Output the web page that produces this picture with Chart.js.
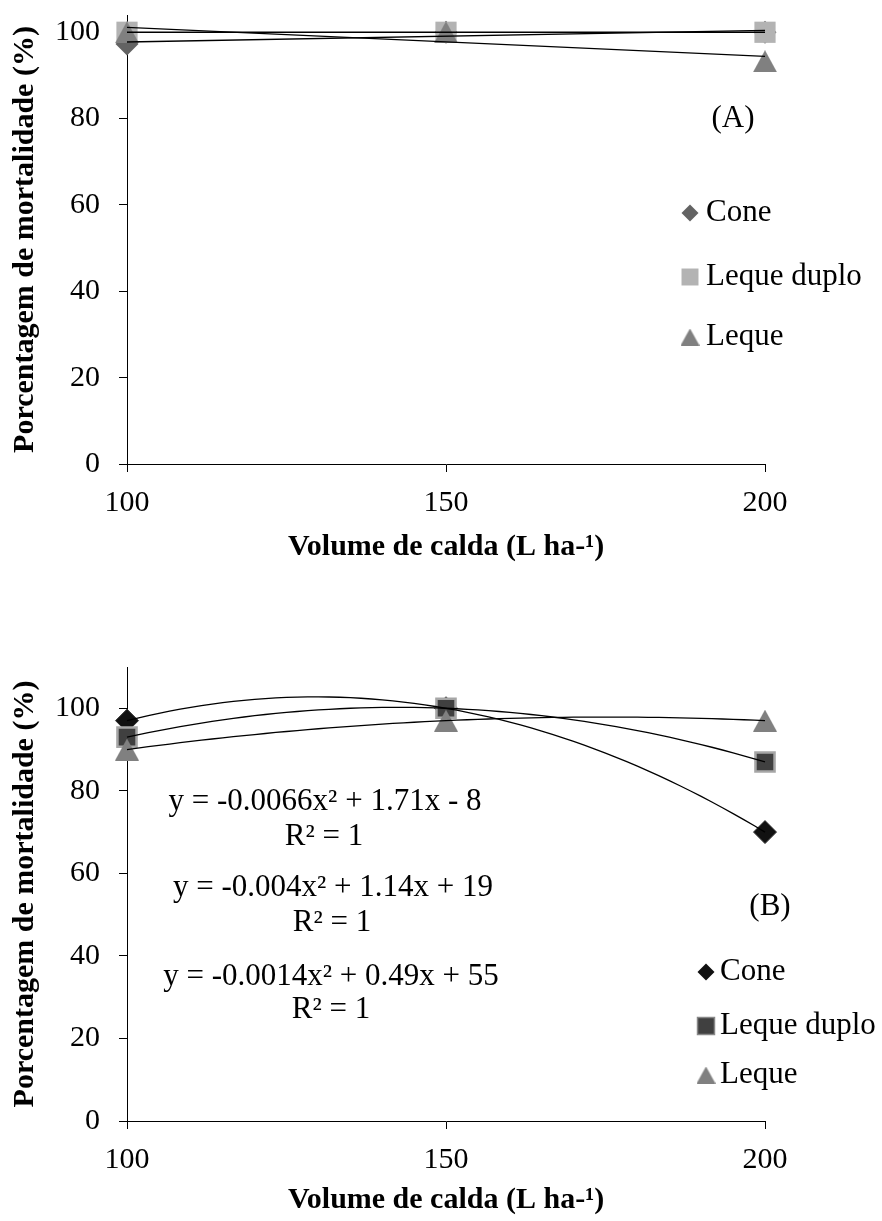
<!DOCTYPE html>
<html><head><meta charset="utf-8">
<script src="https://cdn.jsdelivr.net/npm/chart.js@4.4.1/dist/chart.umd.min.js"></script>
<style>
html,body{margin:0;padding:0;background:#fff;}
#wrapA{position:absolute;left:0;top:0;width:882px;height:590px;}
#wrapB{position:absolute;left:0;top:600px;width:882px;height:621px;}
</style></head><body>
<div id="wrapA"><canvas id="cA"></canvas></div>
<div id="wrapB"><canvas id="cB"></canvas></div>
<script>
// ---------- data ----------
const volumes = [100, 150, 200];            // Volume de calda (L ha-1)
const xTicks = [100, 150, 200];
const yTicks = [0, 20, 40, 60, 80, 100];
const seriesNames = ['Cone', 'Leque duplo', 'Leque'];
// Panel (A)
const coneA  = [97.3, 100, 100];
const duploA = [100, 100, 100];
const lequeA = [100, 100, 93.3];
// Panel (B)
const coneB  = [97, 100, 70];
const duploB = [93, 100, 87];
const lequeB = [90, 97, 97];
const equationsB = ['y = -0.0066x\u00b2 + 1.71x - 8', 'y = -0.004x\u00b2 + 1.14x + 19', 'y = -0.0014x\u00b2 + 0.49x + 55'];
const r2Text = 'R\u00b2 = 1';
const xTitle = 'Volume de calda (L ha-\u00b9)';
const yTitle = 'Porcentagem de mortalidade (%)';

// ---------- helpers ----------
const SERIF = "'Liberation Serif','Times New Roman',serif";
// least-squares polynomial trendline (as the spreadsheet's trendline)
function polyfit(xs, ys, deg) {
  const n = deg + 1;
  const ts = xs.map(x => (x - 150) / 50);
  const A = [];
  for (let r = 0; r < n; r++) {
    const row = [];
    for (let c = 0; c < n; c++) row.push(ts.reduce((s, t) => s + Math.pow(t, r + c), 0));
    row.push(ts.reduce((s, t, i) => s + ys[i] * Math.pow(t, r), 0));
    A.push(row);
  }
  for (let i = 0; i < n; i++) {
    let p = i;
    for (let k = i + 1; k < n; k++) if (Math.abs(A[k][i]) > Math.abs(A[p][i])) p = k;
    [A[i], A[p]] = [A[p], A[i]];
    for (let k = 0; k < n; k++) {
      if (k === i) continue;
      const f = A[k][i] / A[i][i];
      for (let c = i; c <= n; c++) A[k][c] -= f * A[i][c];
    }
  }
  const co = A.map((row, i) => row[n] / row[i]);
  return x => { const t = (x - 150) / 50; return co.reduce((s, c, i) => s + c * Math.pow(t, i), 0); };
}
function trend(ys, deg) {
  const f = polyfit(volumes, ys, deg);
  const pts = [];
  const steps = deg === 1 ? 1 : 60;
  for (let i = 0; i <= steps; i++) {
    const x = volumes[0] + (volumes[volumes.length - 1] - volumes[0]) * i / steps;
    pts.push({x, y: f(x)});
  }
  return pts;
}
function toXY(ys) { return volumes.map((x, i) => ({x, y: ys[i]})); }

// triangle marker centred on its bounding box (spreadsheet style)
function triCanvas(fill, w, h) {
  const c = document.createElement('canvas');
  c.width = w; c.height = h;
  const g = c.getContext('2d');
  g.fillStyle = fill;
  g.beginPath(); g.moveTo(w / 2, 0); g.lineTo(w, h); g.lineTo(0, h); g.closePath(); g.fill();
  return c;
}

function drawMarker(ctx, style, x, y, r, fill, stroke, bw) {
  if (style instanceof HTMLCanvasElement) {
    ctx.drawImage(style, x - style.width / 2, y - style.height / 2);
    return;
  }
  ctx.beginPath();
  if (style === 'rectRot') {
    ctx.moveTo(x - r, y); ctx.lineTo(x, y - r); ctx.lineTo(x + r, y); ctx.lineTo(x, y + r);
  } else {
    const s = Math.SQRT1_2 * r;
    ctx.rect(x - s, y - s, 2 * s, 2 * s);
  }
  ctx.closePath();
  ctx.fillStyle = fill; ctx.fill();
  if (bw) { ctx.lineWidth = bw; ctx.strokeStyle = stroke; ctx.stroke(); }
}

const annotPlugin = {
  id: 'annot',
  afterDraw(chart, args, opts) {
    const ctx = chart.ctx;
    ctx.save();
    ctx.textBaseline = 'middle';
    ctx.fillStyle = '#000';
    (opts.texts || []).forEach(t => {
      ctx.font = t.font; ctx.textAlign = t.align || 'center'; ctx.fillStyle = '#000';
      ctx.fillText(t.text, t.x, t.y);
    });
    (opts.legend || []).forEach(l => {
      drawMarker(ctx, l.style, l.x, l.y, l.r, l.fill, l.stroke, l.bw);
      ctx.font = l.font; ctx.textAlign = 'left'; ctx.fillStyle = '#000';
      ctx.fillText(l.text, l.tx, l.y);
    });
    ctx.restore();
  }
};

function makeChart(id, o) {
  const lineDs = o.series.map(s => ({
    data: trend(s.ys, o.deg), showLine: true, borderColor: '#000', borderWidth: 1.3,
    pointRadius: 0, pointHoverRadius: 0, tension: 0, clip: false, fill: false
  }));
  const markDs = o.series.slice().reverse().map(s => ({
    label: s.name, data: toXY(s.ys), showLine: false, pointStyle: s.style,
    pointRadius: s.r, pointHoverRadius: s.r, backgroundColor: s.fill,
    borderColor: s.stroke, borderWidth: s.bw, clip: false
  }));
  return new Chart(document.getElementById(id), {
    type: 'scatter',
    data: { datasets: [...lineDs, ...markDs] },
    options: {
      responsive: true, maintainAspectRatio: false, animation: false,
      events: [],
      layout: { padding: { left: 0, right: 117, top: o.top, bottom: o.bottom } },
      plugins: { legend: { display: false }, tooltip: { enabled: false }, annot: o.annot },
      scales: {
        x: {
          type: 'linear', min: xTicks[0], max: xTicks[xTicks.length - 1],
          afterBuildTicks: s => { s.ticks = xTicks.map(v => ({value: v})); },
          afterFit: s => { s.height = o.xH; },
          grid: { drawOnChartArea: false, drawTicks: true, tickLength: 8, color: '#000', lineWidth: 1 },
          border: { color: '#000', width: 1 },
          ticks: { color: '#000', font: { family: SERIF, size: 30 }, padding: 13, maxRotation: 0 },
          title: { display: true, text: xTitle, color: '#000', font: { family: SERIF, size: 30, weight: 'bold' }, padding: { top: 0, bottom: 0 } }
        },
        y: {
          type: 'linear', min: 0, max: o.yMax,
          afterBuildTicks: s => { s.ticks = yTicks.map(v => ({value: v})); },
          afterFit: s => { s.width = 127; s.paddingTop = 0; s.paddingBottom = 0; },
          grid: { drawOnChartArea: false, drawTicks: true, tickLength: 8, color: '#000', lineWidth: 1 },
          border: { color: '#000', width: 1 },
          ticks: { color: '#000', font: { family: SERIF, size: 30 }, padding: 19 },
          title: { display: true, text: yTitle, color: '#000', font: { family: SERIF, size: 30, weight: 'bold' }, padding: { top: 7, bottom: 0 } }
        }
      }
    },
    plugins: [annotPlugin]
  });
}

const F31 = '31px ' + SERIF;
const triBig = triCanvas('#808080', 24, 22);
const triLeg = triCanvas('#808080', 19, 17);
// Panel A
makeChart('cA', {
  yMax: 104, top: 6, bottom: 25, xH: 101, deg: 1,
  series: [
    {name: seriesNames[0], ys: coneA, style: 'rectRot', r: 11.5, fill: '#636363', stroke: '#636363', bw: 0},
    {name: seriesNames[1], ys: duploA, style: 'rect', r: 15, fill: '#b3b3b3', stroke: '#b3b3b3', bw: 0},
    {name: seriesNames[2], ys: lequeA, style: triBig, r: 12, fill: '#808080', stroke: '#808080', bw: 0}
  ],
  annot: {
    texts: [{text: '(A)', x: 733, y: 119, font: F31}],
    legend: [
      {style: 'rectRot', r: 8.5, fill: '#636363', x: 690, y: 213, text: seriesNames[0], tx: 706, font: F31},
      {style: 'rect', r: 12, fill: '#b3b3b3', x: 690, y: 277, text: seriesNames[1], tx: 706, font: F31},
      {style: triLeg, x: 690, y: 337, text: seriesNames[2], tx: 706, font: F31}
    ]
  }
});
// Panel B
makeChart('cB', {
  yMax: 110, top: 67, bottom: 3, xH: 97, deg: 2,
  series: [
    {name: seriesNames[0], ys: coneB, style: 'rectRot', r: 11.5, fill: '#111111', stroke: '#333333', bw: 1},
    {name: seriesNames[1], ys: duploB, style: 'rect', r: 13.5, fill: '#404040', stroke: '#a6a6a6', bw: 2.5},
    {name: seriesNames[2], ys: lequeB, style: triBig, r: 12, fill: '#808080', stroke: '#808080', bw: 0}
  ],
  annot: {
    texts: [
      {text: '(B)', x: 770, y: 307, font: F31},
      {text: equationsB[0], x: 325, y: 202, font: F31},
      {text: r2Text, x: 324, y: 237, font: F31},
      {text: equationsB[1], x: 333, y: 288, font: F31},
      {text: r2Text, x: 332, y: 323, font: F31},
      {text: equationsB[2], x: 331, y: 377, font: F31},
      {text: r2Text, x: 331, y: 410, font: F31}
    ],
    legend: [
      {style: 'rectRot', r: 8.5, fill: '#111111', x: 706, y: 372, text: seriesNames[0], tx: 720, font: F31},
      {style: 'rect', r: 12, fill: '#404040', stroke: '#888888', bw: 1.5, x: 706, y: 426, text: seriesNames[1], tx: 720, font: F31},
      {style: triLeg, x: 706, y: 475, text: seriesNames[2], tx: 720, font: F31}
    ]
  }
});
</script>
</body></html>
